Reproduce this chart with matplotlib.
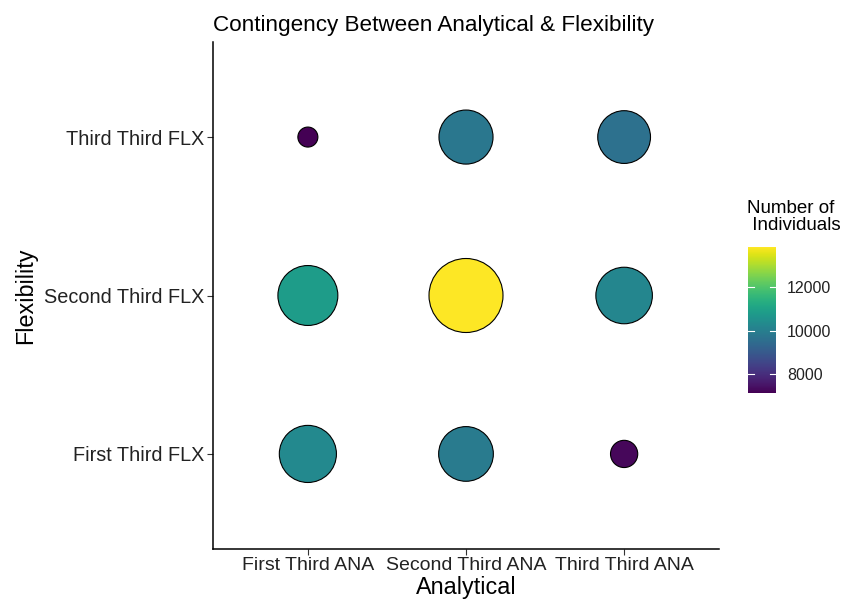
import numpy as np
import matplotlib

matplotlib.use("Agg")
import matplotlib.pyplot as plt
from matplotlib.colors import Normalize

plt.rcParams["font.family"] = ["Liberation Sans", "DejaVu Sans"]

analytical = ["First Third ANA", "Second Third ANA", "Third Third ANA"]
flexibility = ["First Third FLX", "Second Third FLX", "Third Third FLX"]

# counts per flexibility row, ordered by analytical column
counts_first_flx = [10300, 9900, 7250]
counts_second_flx = [10800, 13840, 10200]
counts_third_flx = [7130, 9800, 9600]

W, H = 844, 605
fig = plt.figure(figsize=(W / 100, H / 100), dpi=100)


def frac_box(x0, y0, x1, y1):
    return [x0 / W, 1 - y1 / H, (x1 - x0) / W, (y1 - y0) / H]


ax = fig.add_axes(frac_box(213, 42, 719, 549))

xs, ys, vals = [], [], []
for yi, row in enumerate([counts_first_flx, counts_second_flx, counts_third_flx]):
    for xi, v in enumerate(row):
        xs.append(xi)
        ys.append(yi)
        vals.append(v)
vals = np.array(vals, dtype=float)

vmin, vmax = vals.min(), vals.max()
norm = Normalize(vmin=vmin, vmax=vmax)
# area scaling like ggplot: diameter linear in sqrt of rescaled value
d_min, d_max = 20, 74  # pixels
diam = d_min + (d_max - d_min) * np.sqrt((vals - vmin) / (vmax - vmin))
sizes = (diam * 0.72) ** 2

sc = ax.scatter(xs, ys, s=sizes, c=vals, cmap="viridis", norm=norm,
                edgecolors="black", linewidths=0.8, zorder=3)

ax.set_xlim(-0.6, 2.6)
ax.set_ylim(-0.6, 2.6)
ax.set_xticks(range(3))
ax.set_xticklabels(analytical)
ax.set_yticks(range(3))
ax.set_yticklabels(flexibility)
ax.tick_params(axis="y", labelsize=14.3)
ax.tick_params(axis="x", labelsize=14)
ax.tick_params(axis="both", length=4, width=0.8, color="#333333",
               labelcolor="#222222", pad=2)
for side in ["top", "right"]:
    ax.spines[side].set_visible(False)
for side in ["left", "bottom"]:
    ax.spines[side].set_linewidth(1.1)
    ax.spines[side].set_color("black")

ax.set_xlabel("Analytical", fontsize=16.8, labelpad=1)
ax.set_ylabel("Flexibility", fontsize=16.8, labelpad=5)
ax.set_title("Contingency Between Analytical & Flexibility", fontsize=16.2,
             loc="left", pad=8)

cax = fig.add_axes(frac_box(748, 247, 776, 393))
cb = fig.colorbar(sc, cax=cax)
cb.outline.set_visible(False)
cb.set_ticks([8000, 10000, 12000])
cb.ax.tick_params(labelsize=11.5, length=0, pad=8, labelcolor="#222222")
for t in [8000, 10000, 12000]:
    cax.plot([0, 0.2], [t, t], color="white", lw=0.8, transform=cax.get_yaxis_transform())
    cax.plot([0.8, 1], [t, t], color="white", lw=0.8, transform=cax.get_yaxis_transform())
fig.text(747 / W, 1 - 200 / H, "Number of\n Individuals", fontsize=13.5,
         ha="left", va="top", linespacing=1.0)

fig.savefig("out.png", dpi=100, facecolor="white")
